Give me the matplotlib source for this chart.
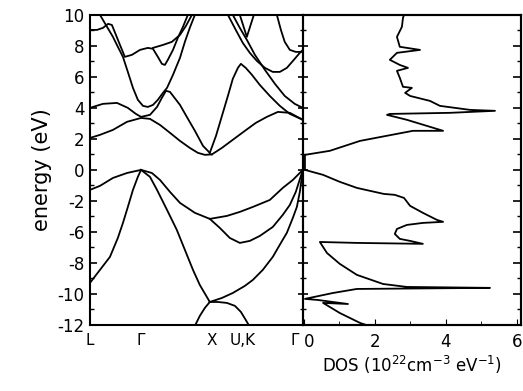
import matplotlib
matplotlib.use("Agg")
import matplotlib.pyplot as plt
import matplotlib.transforms as mtransforms
from matplotlib.ticker import MultipleLocator

# ---------------- data ----------------
# energy axis tick positions and the labels printed on them
e_ticks = [10, 8, 6, 4, 2, 0, -2, -4, -6, -8, -10]
e_tick_labels = ["10", "8", "6", "4", "2", "0", "-2", "-6", "-8", "-10", "-12"]

# k path (fraction of path length) and labels
k_ticks = [0.0, 0.24, 0.573, 0.718, 0.962]
k_labels = ["L", "Γ", "X", "U,K", "Γ"]

# bands: k values and energies (eV, axis units)
b1_k = [0.0, 0.047, 0.108, 0.174, 0.24, 0.291, 0.329, 0.376, 0.423, 0.493, 0.563, 0.643, 0.704, 0.765, 0.845, 0.906, 0.953, 1.0]
b1_e = [-1.29, -1.03, -0.52, -0.2, 0.0, -0.2, -0.65, -1.42, -2.13, -2.77, -3.16, -2.97, -2.71, -2.39, -1.94, -1.16, -0.65, 0.0]

b2_k = [0.0, 0.047, 0.094, 0.131, 0.155, 0.178, 0.202, 0.225, 0.24]
b2_e = [-7.29, -6.45, -5.61, -4.39, -3.42, -2.39, -1.29, -0.45, 0.0]

b3_k = [0.24, 0.282, 0.315, 0.362, 0.408, 0.446, 0.484, 0.516, 0.563]
b3_e = [0.0, -0.45, -1.29, -2.58, -3.87, -5.16, -6.45, -7.42, -8.52]

b4_k = [0.479, 0.516, 0.540, 0.563]
b4_e = [-10.45, -9.42, -8.90, -8.52]

b5_k = [0.563, 0.601, 0.643, 0.681, 0.709, 0.732, 0.751]
b5_e = [-8.52, -8.52, -8.58, -8.77, -9.16, -9.68, -10.13]

b6_k = [0.563, 0.620, 0.671, 0.728, 0.765, 0.812, 0.859, 0.897, 0.925, 0.953, 0.972, 0.986, 1.0]
b6_e = [-8.52, -8.26, -7.94, -7.48, -7.10, -6.45, -5.61, -4.71, -4.06, -3.10, -2.39, -1.42, 0.0]

b7_k = [0.563, 0.610, 0.657, 0.704, 0.751, 0.798, 0.859, 0.906, 0.939, 0.967, 1.0]
b7_e = [-3.16, -3.74, -4.39, -4.71, -4.58, -4.26, -3.68, -2.90, -2.26, -1.42, 0.0]

c1_k = [0.0, 0.047, 0.108, 0.174, 0.24, 0.282, 0.329, 0.376, 0.423, 0.469, 0.507, 0.540, 0.573]
c1_e = [2.06, 2.26, 2.58, 3.10, 3.35, 3.29, 2.90, 2.39, 1.87, 1.42, 1.10, 0.97, 1.00]

c2_k = [0.573, 0.620, 0.671, 0.728, 0.779, 0.831, 0.883, 0.939, 1.0]
c2_e = [1.00, 1.42, 1.94, 2.52, 3.03, 3.42, 3.74, 3.68, 3.23]

c3_k = [0.0, 0.061, 0.127, 0.178, 0.216, 0.24, 0.282, 0.315, 0.338, 0.357, 0.376, 0.423, 0.455, 0.493, 0.531, 0.563]
c3_e = [4.00, 4.26, 4.32, 4.00, 3.61, 3.42, 3.55, 4.06, 4.65, 5.10, 5.03, 4.19, 3.42, 2.52, 1.55, 1.10]

c4_k = [0.047, 0.080, 0.108, 0.131, 0.155, 0.178, 0.202, 0.225, 0.249, 0.272, 0.296, 0.319, 0.343, 0.362, 0.390, 0.423, 0.446, 0.469, 0.493]
c4_e = [10.0, 9.23, 8.58, 7.94, 7.29, 6.32, 5.29, 4.52, 4.13, 4.06, 4.19, 4.52, 4.97, 5.29, 6.13, 7.23, 8.26, 9.16, 10.0]

c5_k = [0.0, 0.033, 0.061, 0.085, 0.103, 0.122, 0.141, 0.164, 0.197, 0.235, 0.272, 0.296, 0.319, 0.338, 0.352, 0.366, 0.390, 0.413, 0.437, 0.460]
c5_e = [9.03, 9.03, 9.16, 9.42, 9.35, 8.71, 8.06, 7.29, 7.42, 7.74, 7.87, 7.81, 7.29, 6.84, 6.77, 7.10, 7.74, 8.52, 9.23, 10.0]

c6_k = [0.296, 0.343, 0.385, 0.423, 0.451, 0.479]
c6_e = [7.87, 8.06, 8.26, 8.71, 9.29, 10.0]

c7_k = [0.563, 0.592, 0.620, 0.648, 0.671, 0.695, 0.709, 0.732, 0.761, 0.798, 0.845, 0.892, 0.939, 1.0]
c7_e = [1.10, 2.19, 3.48, 4.77, 5.87, 6.58, 6.84, 6.58, 6.13, 5.48, 4.77, 4.13, 3.61, 3.23]

r1_k = [0.648, 0.685, 0.718, 0.751, 0.784, 0.822, 0.859, 0.892, 0.925, 0.958, 0.986, 1.0]
r1_e = [10.0, 9.03, 8.19, 7.55, 7.03, 6.58, 6.32, 6.32, 6.58, 7.10, 7.55, 7.74]

r2_k = [0.671, 0.704, 0.737, 0.775, 0.822, 0.869, 0.915, 0.962, 1.0]
r2_e = [10.0, 9.16, 8.39, 7.42, 6.45, 5.55, 4.77, 4.26, 4.00]

r3_k = [0.704, 0.737, 0.770]
r3_e = [10.0, 8.58, 10.0]

r4_k = [0.878, 0.897, 0.915, 0.939, 0.967, 1.0]
r4_e = [10.0, 9.03, 8.26, 7.74, 7.61, 7.61]

bands = [(b1_k, b1_e), (b2_k, b2_e), (b3_k, b3_e), (b4_k, b4_e), (b5_k, b5_e),
         (b6_k, b6_e), (b7_k, b7_e), (c1_k, c1_e), (c2_k, c2_e), (c3_k, c3_e),
         (c4_k, c4_e), (c5_k, c5_e), (c6_k, c6_e), (c7_k, c7_e), (r1_k, r1_e),
         (r2_k, r2_e), (r3_k, r3_e), (r4_k, r4_e)]

# density of states (10^22 cm^-3 eV^-1) vs energy
dos_val = [1.92, 1.58, 1.01, 0.54, 1.24, 0.39, 0.03, 0.82, 1.49, 5.24, 2.90, 2.23, 1.49, 1.01, 0.65, 0.45,
           1.49, 3.35, 2.99, 2.70, 2.56, 2.62, 2.90, 3.35, 3.92, 3.75, 3.35, 2.99, 2.82, 2.56, 2.25, 1.49, 1.01, 0.54, 0.03,
           0.03, 0.73, 1.58, 3.07, 3.92, 2.90, 2.34, 2.42, 4.11, 5.38, 4.68, 3.83, 3.55, 2.99, 2.85, 3.04, 2.79, 2.70,
           2.62, 2.93, 2.70, 2.42, 2.62, 3.27, 2.70, 2.62, 2.76, 2.79, 2.82]
dos_e = [-10.13, -9.87, -9.23, -8.58, -8.65, -8.39, -8.32, -7.94, -7.68, -7.61, -7.55, -7.36, -6.77, -6.06, -5.36, -4.65,
         -4.71, -4.77, -4.58, -4.45, -4.13, -3.81, -3.55, -3.42, -3.35, -3.23, -2.77, -2.32, -1.81, -1.61, -1.55, -1.16, -0.77, -0.32, 0.0,
         0.97, 1.23, 1.87, 2.52, 2.52, 3.23, 3.55, 3.61, 3.68, 3.81, 3.87, 4.13, 4.45, 4.77, 4.97, 5.29, 5.36, 5.94,
         6.39, 6.58, 6.77, 7.10, 7.55, 7.74, 7.94, 8.58, 9.23, 9.81, 10.0]

dos_ticks = [0, 2, 4, 6]

# ---------------- figure ----------------
fig = plt.figure(figsize=(5.23, 3.91), dpi=100)
ax1 = fig.add_axes([0.172, 0.169, 0.407, 0.793])
ax2 = fig.add_axes([0.579, 0.169, 0.417, 0.793], sharey=ax1)

for k, e in bands:
    ax1.plot(k, e, color="black", lw=1.3, solid_joinstyle="round")

ax1.set_xlim(0, 1)
ax1.set_ylim(-10.0, 10.0)
ax1.set_yticks(e_ticks)
ax1.set_yticklabels(e_tick_labels)
ax1.yaxis.set_minor_locator(MultipleLocator(1))
ax1.set_xticks(k_ticks)
ax1.set_xticklabels(k_labels)
ax1.tick_params(axis="x", length=0, labelsize=11, pad=6)
ax1.tick_params(axis="y", which="major", direction="in", length=5, width=1.2, labelsize=12, pad=4)
ax1.tick_params(axis="y", which="minor", direction="in", length=3, width=1.0)
ax1.set_ylabel("energy (eV)", fontsize=15, labelpad=4)
for s in ax1.spines.values():
    s.set_linewidth(1.5)
ax1.spines["right"].set_visible(False)

ax2.plot(dos_val, dos_e, color="black", lw=1.3, solid_joinstyle="round")
ax2.set_xlim(-0.03, 6.11)
ax2.set_xticks(dos_ticks)
ax2.xaxis.set_minor_locator(MultipleLocator(1))
ax2.tick_params(axis="x", which="major", direction="in", length=4, labelsize=12, pad=6)
ax2.tick_params(axis="x", which="minor", direction="in", length=3)
ax2.tick_params(axis="y", which="both", left=True, right=False, labelleft=False, direction="inout")
ax2.tick_params(axis="y", which="major", length=7, width=1.2)
ax2.tick_params(axis="y", which="minor", length=4, width=1.0)
for s in ax2.spines.values():
    s.set_linewidth(1.5)
ax2.set_xlabel("DOS (10$^{22}$cm$^{-3}$ eV$^{-1}$)", fontsize=12, labelpad=2)

# shift the DOS "0" label a little to the right so it clears the Γ label
offset = mtransforms.ScaledTranslation(5 / 100, 0, fig.dpi_scale_trans)
ax2.get_xticklabels()[0].set_transform(ax2.get_xticklabels()[0].get_transform() + offset)

# inward ticks on the right spine of the DOS panel
ax3 = ax2.twinx()
ax3.set_ylim(ax1.get_ylim())
ax3.set_yticks(e_ticks)
ax3.yaxis.set_minor_locator(MultipleLocator(1))
ax3.tick_params(axis="y", which="both", direction="in", labelright=False)
ax3.tick_params(axis="y", which="major", length=6, width=1.2)
ax3.tick_params(axis="y", which="minor", length=3, width=1.0)
for s in ax3.spines.values():
    s.set_linewidth(1.5)

fig.savefig("out.png", dpi=100)
